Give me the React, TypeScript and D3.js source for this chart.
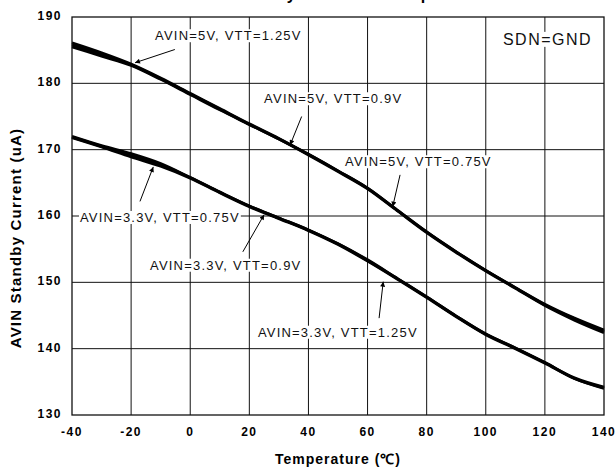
import React, { useEffect, useRef } from 'react';
import * as d3 from 'd3';

// Temperature (°C) sample points
const temps = [-40, -30, -20, -10, 0, 10, 20, 30, 40, 50, 60, 70, 80, 90, 100, 110, 120, 130, 140];

// AVIN = 5V curves (uA)
const avin5Vtt125 = [186.1, 184.6, 182.9, 180.8, 178.5, 176.2, 173.9, 171.7, 169.3, 166.8, 164.2, 160.9, 157.6, 154.6, 151.8, 149.2, 146.7, 144.6, 142.8];
const avin5Vtt09 = [185.5, 184.1, 182.7, 180.6, 178.3, 176.0, 173.8, 171.6, 169.2, 166.7, 164.1, 160.8, 157.5, 154.5, 151.7, 149.1, 146.5, 144.3, 142.4];
const avin5Vtt075 = [185.8, 184.4, 182.8, 180.7, 178.4, 176.1, 173.8, 171.6, 169.3, 166.8, 164.2, 160.9, 157.6, 154.6, 151.8, 149.2, 146.6, 144.5, 142.6];

// AVIN = 3.3V curves (uA)
const avin33Vtt075 = [172.0, 170.6, 169.4, 167.9, 165.8, 163.6, 161.5, 159.7, 157.9, 155.8, 153.3, 150.6, 147.8, 144.9, 142.2, 140.1, 137.9, 135.6, 134.2];
const avin33Vtt09 = [171.8, 170.4, 168.9, 167.5, 165.7, 163.5, 161.4, 159.6, 157.8, 155.7, 153.2, 150.5, 147.7, 144.8, 142.1, 140.0, 137.8, 135.5, 134.0];
const avin33Vtt125 = [171.9, 170.5, 169.1, 167.7, 165.8, 163.6, 161.5, 159.7, 157.9, 155.8, 153.4, 150.6, 147.8, 144.9, 142.2, 140.1, 137.9, 135.5, 134.1];

const seriesList = [avin5Vtt125, avin5Vtt09, avin5Vtt075, avin33Vtt075, avin33Vtt09, avin33Vtt125];

const xTicks = [-40, -20, 0, 20, 40, 60, 80, 100, 120, 140];
const yTicks = [130, 140, 150, 160, 170, 180, 190];

// label text, text anchor (t, v), arrow tail (t, v), arrow head (t, v)
const labelTexts = ['AVIN=5V, VTT=1.25V', 'AVIN=5V, VTT=0.9V', 'AVIN=5V, VTT=0.75V', 'AVIN=3.3V, VTT=0.75V', 'AVIN=3.3V, VTT=0.9V', 'AVIN=3.3V, VTT=1.25V'];
const labelPos = [[-11.9, 186.5], [25, 177.0], [52.4, 167.5], [-37.3, 159.1], [-13.6, 151.9], [22.9, 141.8]];
const arrowFrom = [[-5.2, 185.1], [37.7, 175.0], [71, 166.2], [-17, 162.2], [17.8, 154.6], [63.9, 144.6]];
const arrowTo = [[-18.7, 183.1], [33.8, 170.7], [68.5, 161.4], [-12.5, 167.4], [25, 160.2], [65.3, 150.1]];

const App = () => {
  const ref = useRef<SVGSVGElement>(null);
  const width = 616;
  const height = 469;
  const margin = { top: 17, right: 12, bottom: 54, left: 72 };

  useEffect(() => {
    const svg = d3.select(ref.current);
    svg.selectAll('*').remove();

    const x = d3.scaleLinear().domain([-40, 140]).range([margin.left, width - margin.right]);
    const y = d3.scaleLinear().domain([130, 190]).range([height - margin.bottom, margin.top]);

    svg.append('defs').append('marker')
      .attr('id', 'arr')
      .attr('viewBox', '0 0 10 10')
      .attr('refX', 10)
      .attr('refY', 5)
      .attr('markerWidth', 7)
      .attr('markerHeight', 5)
      .attr('markerUnits', 'userSpaceOnUse')
      .attr('orient', 'auto')
      .append('path')
      .attr('d', 'M0,0L10,5L0,10Z')
      .attr('fill', '#000');

    svg.append('rect').attr('width', width).attr('height', height).attr('fill', '#fff');

    // title, mostly clipped off the top (as in the source image)
    svg.append('text')
      .attr('x', (margin.left + width - margin.right) / 2)
      .attr('y', 0)
      .attr('text-anchor', 'middle')
      .style('font', 'bold 16px "Liberation Sans", Arial, sans-serif')
      .text('AVIN Standby Current vs. Temperature');

    // grid
    svg.append('g').selectAll('line')
      .data(xTicks.slice(1, -1))
      .join('line')
      .attr('x1', d => x(d)).attr('x2', d => x(d))
      .attr('y1', y(130)).attr('y2', y(190))
      .attr('stroke', '#111').attr('stroke-width', 1);

    svg.append('g').selectAll('line')
      .data(yTicks.slice(1, -1))
      .join('line')
      .attr('x1', x(-40)).attr('x2', x(140))
      .attr('y1', d => y(d)).attr('y2', d => y(d))
      .attr('stroke', '#111').attr('stroke-width', 1);

    const labelFont = '13px "Liberation Sans", Arial, sans-serif';

    // label backgrounds hide the grid behind text
    const labels = svg.append('g');
    const bgs = labels.append('g');
    const texts = labels.append('g');
    labelTexts.forEach((t, i) => {
      const txt = texts.append('text')
        .attr('x', x(labelPos[i][0]))
        .attr('y', y(labelPos[i][1]))
        .style('font', labelFont)
        .style('letter-spacing', '1.2px')
        .attr('fill', '#111')
        .text(t);
      const b = (txt.node() as SVGTextElement).getBBox();
      bgs.append('rect')
        .attr('x', b.x - 1).attr('y', b.y + 1)
        .attr('width', b.width + 2).attr('height', b.height - 2)
        .attr('fill', '#fff');
    });

    const sdn = texts.append('text')
      .attr('x', x(105.8))
      .attr('y', y(185.8))
      .style('font', '16px "Liberation Sans", Arial, sans-serif')
      .style('letter-spacing', '1.5px')
      .attr('fill', '#111')
      .text('SDN=GND');
    const sb = (sdn.node() as SVGTextElement).getBBox();
    bgs.append('rect')
      .attr('x', sb.x - 1).attr('y', sb.y + 1)
      .attr('width', sb.width + 2).attr('height', sb.height - 2)
      .attr('fill', '#fff');

    // curves
    const line = d3.line<number>()
      .x((_, i) => x(temps[i]))
      .y(d => y(d))
      .curve(d3.curveMonotoneX);

    svg.append('g').selectAll('path')
      .data(seriesList)
      .join('path')
      .attr('d', d => line(d))
      .attr('fill', 'none')
      .attr('stroke', '#000')
      .attr('stroke-width', 2.8);

    // arrows
    svg.append('g').selectAll('line')
      .data(arrowFrom)
      .join('line')
      .attr('x1', d => x(d[0])).attr('y1', d => y(d[1]))
      .attr('x2', (_, i) => x(arrowTo[i][0])).attr('y2', (_, i) => y(arrowTo[i][1]))
      .attr('stroke', '#000').attr('stroke-width', 1)
      .attr('marker-end', 'url(#arr)');

    // frame
    svg.append('rect')
      .attr('x', x(-40)).attr('y', y(190))
      .attr('width', x(140) - x(-40)).attr('height', y(130) - y(190))
      .attr('fill', 'none').attr('stroke', '#111').attr('stroke-width', 1.3);

    const tickFont = 'bold 12px "Liberation Sans", Arial, sans-serif';

    svg.append('g').selectAll('text')
      .data(xTicks)
      .join('text')
      .attr('x', d => x(d))
      .attr('y', y(130) + 21)
      .attr('text-anchor', 'middle')
      .style('font', tickFont)
      .style('letter-spacing', '1.5px')
      .text(d => d);

    svg.append('g').selectAll('text')
      .data(yTicks)
      .join('text')
      .attr('x', x(-40) - 10)
      .attr('y', d => y(d) + 3)
      .attr('text-anchor', 'end')
      .style('font', tickFont)
      .style('letter-spacing', '1.5px')
      .text(d => d);

    svg.append('text')
      .attr('x', (x(-40) + x(140)) / 2)
      .attr('y', 464)
      .attr('text-anchor', 'middle')
      .style('font', 'bold 14px "Liberation Sans", Arial, sans-serif')
      .style('letter-spacing', '1px')
      .text('Temperature (℃)');

    svg.append('text')
      .attr('transform', `translate(21,238) rotate(-90)`)
      .attr('text-anchor', 'middle')
      .style('font', 'bold 15px "Liberation Sans", Arial, sans-serif')
      .style('letter-spacing', '1.2px')
      .text('AVIN Standby Current (uA)');
  }, []);

  return (
    <svg
      ref={ref}
      width={width}
      height={height}
      style={{ position: 'absolute', left: 0, top: 0, display: 'block' }}
    />
  );
};

export default App;
